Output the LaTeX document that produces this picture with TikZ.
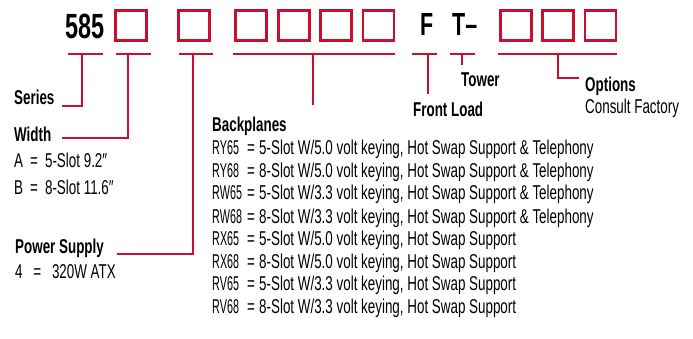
\documentclass[tikz,border=0pt]{standalone}
\usepackage{fontspec}
\setmainfont{Liberation Sans}[FakeStretch=0.67]
\newfontfamily\codefont{Liberation Sans}[FakeStretch=0.54]
\usetikzlibrary{positioning}
\definecolor{CodeRed}{HTML}{C8102E}

\tikzset{
  slot/.style={draw=CodeRed, line width=2.8pt, minimum width=31pt, minimum height=30pt, inner sep=0pt},
  lead/.style={draw=CodeRed, line width=2.6pt},
  head/.style={font=\bfseries\fontsize{20}{22}\selectfont, inner sep=0pt, anchor=base west},
  body/.style={font=\fontsize{20}{22}\selectfont, inner sep=0pt, anchor=base west},
  code/.style={font=\codefont\fontsize{20}{22}\selectfont, inner sep=0pt, anchor=base west},
  eq/.style={font=\fontsize{20}{22}\selectfont, inner sep=0pt, anchor=base},
  big/.style={font=\bfseries\fontsize{35}{35}\selectfont, inner sep=0pt, anchor=base west},
  mid/.style={font=\bfseries\fontsize{32}{32}\selectfont, inner sep=0pt, anchor=base west},
}

\begin{document}
\begin{tikzpicture}[x=1pt, y=-1pt]
  \useasboundingbox (0,0) rectangle (693,339);
  % Part number
  \node[big] (series-no) at (65,39) {585};
  \node[slot] (wbox) at (131,25.5) {};
  \node[slot] (pbox) at (194,25.5) {};
  \foreach \i/\x in {1/251,2/294,3/336,4/378.5}
    \node[slot] (bbox\i) at (\x,25.5) {};
  \node[mid] (fl) at (420,36) {F};
  \node[mid] (tw) at (452,36) {T--};
  \foreach \i/\x in {1/516,2/558,3/600.5}
    \node[slot] (obox\i) at (\x,25.5) {};
  % Underline ends
  \coordinate (ser-a) at (68,54);   \coordinate (ser-b) at (103,54);
  \coordinate (wid-a) at (116,54);  \coordinate (wid-b) at (151,54);
  \coordinate (pow-a) at (179,54);  \coordinate (pow-b) at (213,54);
  \coordinate (bkp-a) at (233,54);  \coordinate (bkp-b) at (395,54);
  \coordinate (frl-a) at (412,54);  \coordinate (frl-b) at (437,54);
  \coordinate (tow-a) at (450,54);  \coordinate (tow-b) at (475,54);
  \coordinate (opt-a) at (498,54);  \coordinate (opt-b) at (617,54);
  % Leader ends
  \coordinate (ser-end) at (62,106);
  \coordinate (wid-end) at (62,138);
  \coordinate (pow-end) at (117,254);
  \coordinate (bkp-end) at (313,105);
  \coordinate (frl-end) at (428,94);
  \coordinate (tow-end) at (462,65);
  \coordinate (opt-end) at (579,78);
  % Labels
  \node[head] (series) at (14,105) {Series};
  \node[head] (width) at (14,142) {Width};
  \node[body] (wa) at (14,168) {A \,=\, 5-Slot 9.2″};
  \node[body] (wb) at (14,195) {B \,=\, 8-Slot 11.6″};
  \node[head] (power) at (15,253) {Power Supply};
  \node[body] (pa) at (15,278) {4 \ \,=\ \, 320W ATX};
  \node[head] (backpl) at (212,132) {Backplanes};
  \node[head] (front) at (413,117) {Front Load};
  \node[head] (tower) at (461,87) {Tower};
  \node[head] (options) at (585,92) {Options};
  \node[body] (consult) at (585,114) {Consult Factory};
  % Backplane table
  \foreach \k/\c/\y in {1/RY65/155,2/RY68/178,3/RW65/200,4/RW68/223,
                        5/RX65/245,6/RX68/268,7/RV65/290,8/RV68/313}{
    \node[code] (bp\k) at (212,\y) {\c};
    \node[eq] (be\k) at (251,\y) {=};
  }
  \node[body] (bd1) at (259,155) {5-Slot W/5.0 volt keying, Hot Swap Support \& Telephony};
  \node[body] (bd2) at (259,178) {8-Slot W/5.0 volt keying, Hot Swap Support \& Telephony};
  \node[body] (bd3) at (259,200) {5-Slot W/3.3 volt keying, Hot Swap Support \& Telephony};
  \node[body] (bd4) at (259,223) {8-Slot W/3.3 volt keying, Hot Swap Support \& Telephony};
  \node[body] (bd5) at (259,245) {5-Slot W/5.0 volt keying, Hot Swap Support};
  \node[body] (bd6) at (259,268) {8-Slot W/5.0 volt keying, Hot Swap Support};
  \node[body] (bd7) at (259,290) {5-Slot W/3.3 volt keying, Hot Swap Support};
  \node[body] (bd8) at (259,313) {8-Slot W/3.3 volt keying, Hot Swap Support};
  % Underlines and leaders
  \draw[lead] (ser-a) -- (ser-b);
  \draw[lead] (82,54) |- (ser-end);
  \draw[lead] (wid-a) -- (wid-b);
  \draw[lead] (128,54) |- (wid-end);
  \draw[lead] (pow-a) -- (pow-b);
  \draw[lead] (193,54) |- (pow-end);
  \draw[lead] (bkp-a) -- (bkp-b);
  \draw[lead] (313,54) -- (bkp-end);
  \draw[lead] (frl-a) -- (frl-b);
  \draw[lead] (428,54) -- (frl-end);
  \draw[lead] (tow-a) -- (tow-b);
  \draw[lead] (462,54) -- (tow-end);
  \draw[lead] (opt-a) -- (opt-b);
  \draw[lead] (558,54) |- (opt-end);
\end{tikzpicture}
\end{document}
